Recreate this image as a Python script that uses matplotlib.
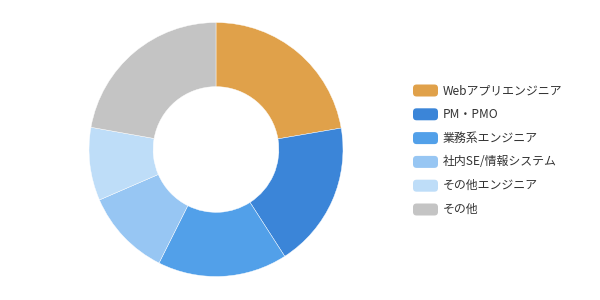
import matplotlib
matplotlib.use("Agg")
import matplotlib.pyplot as plt
from matplotlib.patches import FancyBboxPatch

plt.rcParams['font.family'] = ['Noto Sans CJK JP', 'DejaVu Sans']

# share of each job category (percent)
labels = ["Webアプリエンジニア", "PM・PMO", "業務系エンジニア",
          "社内SE/情報システム", "その他エンジニア", "その他"]
shares = [22.3, 18.6, 16.5, 11.1, 9.3, 22.2]
colors = ["#E0A14A", "#3B85D8", "#52A0E9", "#97C6F3", "#BEDDF8", "#C4C4C4"]

fig = plt.figure(figsize=(6, 3), dpi=100)
ax = fig.add_axes([89 / 600, 23.5 / 300, 254 / 600, 254 / 300])
ax.pie(shares, colors=colors, startangle=90, counterclock=False,
       wedgeprops=dict(width=0.505, edgecolor="white", linewidth=0.3))
ax.set_aspect("equal")
ax.set_xlim(-1, 1)
ax.set_ylim(-1, 1)

# legend drawn by hand: rounded swatches + labels
row_y0 = 90.5
row_step = 23.8
for i, (lab, col) in enumerate(zip(labels, colors)):
    y = row_y0 + i * row_step
    box = FancyBboxPatch((413 / 600, (300 - y - 6) / 300), 25 / 600, 12 / 300,
                         boxstyle="round,pad=0,rounding_size=0.006",
                         transform=fig.transFigure, facecolor=col,
                         edgecolor="none", mutation_aspect=2)
    fig.patches.append(box)
    fig.text(443 / 600, (300 - y) / 300, lab, fontsize=8.6, color="#333333",
             ha="left", va="center")

fig.savefig("out.png", dpi=100, facecolor="white")
